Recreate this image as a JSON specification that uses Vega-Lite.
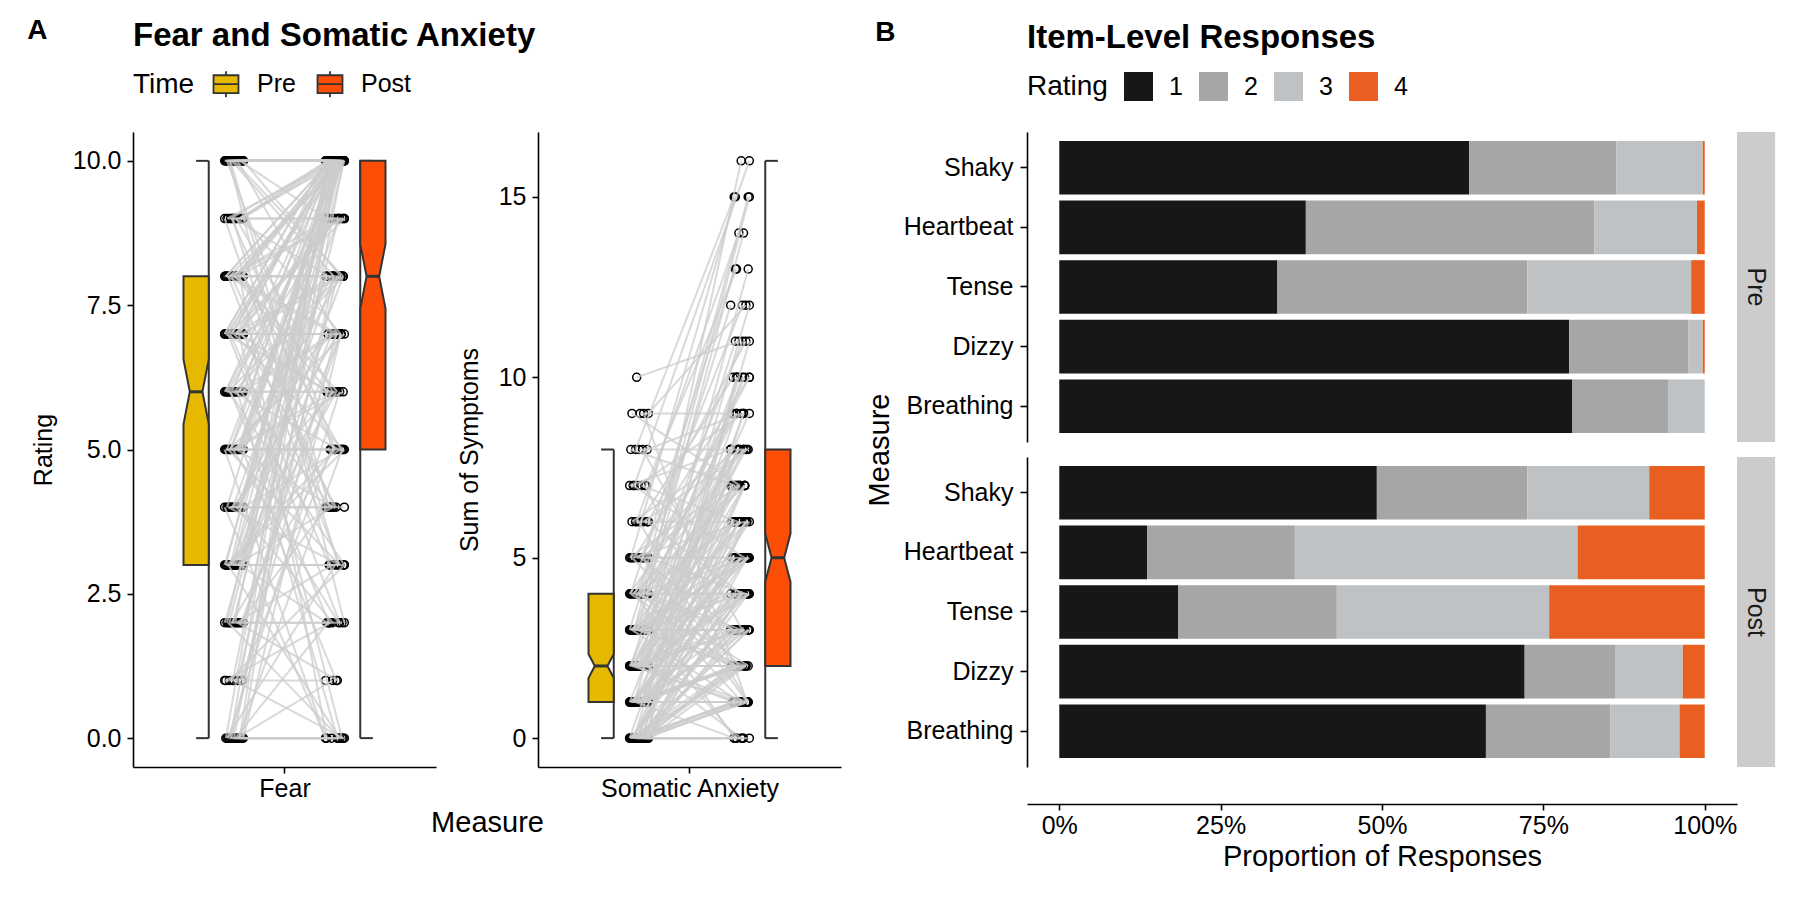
{
"$schema":"https://vega.github.io/schema/vega-lite/v6.json",
"background":"white",
"padding":{"left":27,"top":17,"right":8,"bottom":8},
"config":{
 "font":"Liberation Sans",
 "view":{"stroke":null},
 "axis":{"domainColor":"#000","domainWidth":1.6,"tickColor":"#000","tickWidth":1.6,"tickSize":6,"labelColor":"#000","labelFontSize":25,"labelPadding":6,"titleColor":"#000","titleFontWeight":"normal","titleFontSize":25,"grid":false},
 "legend":{"titleFontSize":28,"titleFontWeight":"normal","titleColor":"#000","labelFontSize":25,"labelColor":"#000","padding":0},
 "title":{"fontSize":33,"fontWeight":"bold","color":"#000","anchor":"start","baseline":"alphabetic"}
},
"datasets":{
"fear":[
{"id":1,"t":"Pre","v":0},{"id":1,"t":"Post","v":0},{"id":2,"t":"Pre","v":0},{"id":2,"t":"Post","v":0},{"id":3,"t":"Pre","v":0},{"id":3,"t":"Post","v":0},{"id":4,"t":"Pre","v":0},{"id":4,"t":"Post","v":0},
{"id":5,"t":"Pre","v":0},{"id":5,"t":"Post","v":10},{"id":6,"t":"Pre","v":0},{"id":6,"t":"Post","v":10},{"id":7,"t":"Pre","v":0},{"id":7,"t":"Post","v":10},{"id":8,"t":"Pre","v":0},{"id":8,"t":"Post","v":10},
{"id":9,"t":"Pre","v":0},{"id":9,"t":"Post","v":5},{"id":10,"t":"Pre","v":0},{"id":10,"t":"Post","v":3},{"id":11,"t":"Pre","v":0},{"id":11,"t":"Post","v":2},{"id":12,"t":"Pre","v":0},{"id":12,"t":"Post","v":7},
{"id":13,"t":"Pre","v":0},{"id":13,"t":"Post","v":8},{"id":14,"t":"Pre","v":0},{"id":14,"t":"Post","v":10},{"id":15,"t":"Pre","v":0},{"id":15,"t":"Post","v":6},{"id":16,"t":"Pre","v":0},{"id":16,"t":"Post","v":1},
{"id":17,"t":"Pre","v":1},{"id":17,"t":"Post","v":1},{"id":18,"t":"Pre","v":1},{"id":18,"t":"Post","v":10},{"id":19,"t":"Pre","v":1},{"id":19,"t":"Post","v":5},{"id":20,"t":"Pre","v":1},{"id":20,"t":"Post","v":3},
{"id":21,"t":"Pre","v":1},{"id":21,"t":"Post","v":8},{"id":22,"t":"Pre","v":1},{"id":22,"t":"Post","v":2},{"id":23,"t":"Pre","v":1},{"id":23,"t":"Post","v":0},{"id":24,"t":"Pre","v":1},{"id":24,"t":"Post","v":7},
{"id":25,"t":"Pre","v":2},{"id":25,"t":"Post","v":2},{"id":26,"t":"Pre","v":2},{"id":26,"t":"Post","v":2},{"id":27,"t":"Pre","v":2},{"id":27,"t":"Post","v":10},{"id":28,"t":"Pre","v":2},{"id":28,"t":"Post","v":10},
{"id":29,"t":"Pre","v":2},{"id":29,"t":"Post","v":7},{"id":30,"t":"Pre","v":2},{"id":30,"t":"Post","v":5},{"id":31,"t":"Pre","v":2},{"id":31,"t":"Post","v":4},{"id":32,"t":"Pre","v":2},{"id":32,"t":"Post","v":0},
{"id":33,"t":"Pre","v":2},{"id":33,"t":"Post","v":3},{"id":34,"t":"Pre","v":2},{"id":34,"t":"Post","v":8},{"id":35,"t":"Pre","v":2},{"id":35,"t":"Post","v":9},{"id":36,"t":"Pre","v":2},{"id":36,"t":"Post","v":6},
{"id":37,"t":"Pre","v":2},{"id":37,"t":"Post","v":10},{"id":38,"t":"Pre","v":2},{"id":38,"t":"Post","v":1},
{"id":39,"t":"Pre","v":3},{"id":39,"t":"Post","v":3},{"id":40,"t":"Pre","v":3},{"id":40,"t":"Post","v":3},{"id":41,"t":"Pre","v":3},{"id":41,"t":"Post","v":10},{"id":42,"t":"Pre","v":3},{"id":42,"t":"Post","v":10},
{"id":43,"t":"Pre","v":3},{"id":43,"t":"Post","v":10},{"id":44,"t":"Pre","v":3},{"id":44,"t":"Post","v":5},{"id":45,"t":"Pre","v":3},{"id":45,"t":"Post","v":6},{"id":46,"t":"Pre","v":3},{"id":46,"t":"Post","v":7},
{"id":47,"t":"Pre","v":3},{"id":47,"t":"Post","v":8},{"id":48,"t":"Pre","v":3},{"id":48,"t":"Post","v":2},{"id":49,"t":"Pre","v":3},{"id":49,"t":"Post","v":0},{"id":50,"t":"Pre","v":3},{"id":50,"t":"Post","v":4},
{"id":51,"t":"Pre","v":3},{"id":51,"t":"Post","v":9},{"id":52,"t":"Pre","v":3},{"id":52,"t":"Post","v":10},{"id":53,"t":"Pre","v":3},{"id":53,"t":"Post","v":7},{"id":54,"t":"Pre","v":3},{"id":54,"t":"Post","v":5},
{"id":55,"t":"Pre","v":3},{"id":55,"t":"Post","v":3},{"id":56,"t":"Pre","v":3},{"id":56,"t":"Post","v":10},{"id":57,"t":"Pre","v":3},{"id":57,"t":"Post","v":8},{"id":58,"t":"Pre","v":3},{"id":58,"t":"Post","v":6},
{"id":59,"t":"Pre","v":4},{"id":59,"t":"Post","v":4},{"id":60,"t":"Pre","v":4},{"id":60,"t":"Post","v":10},{"id":61,"t":"Pre","v":4},{"id":61,"t":"Post","v":10},{"id":62,"t":"Pre","v":4},{"id":62,"t":"Post","v":7},
{"id":63,"t":"Pre","v":4},{"id":63,"t":"Post","v":5},{"id":64,"t":"Pre","v":4},{"id":64,"t":"Post","v":6},{"id":65,"t":"Pre","v":4},{"id":65,"t":"Post","v":8},{"id":66,"t":"Pre","v":4},{"id":66,"t":"Post","v":3},
{"id":67,"t":"Pre","v":4},{"id":67,"t":"Post","v":2},{"id":68,"t":"Pre","v":4},{"id":68,"t":"Post","v":0},{"id":69,"t":"Pre","v":4},{"id":69,"t":"Post","v":9},{"id":70,"t":"Pre","v":4},{"id":70,"t":"Post","v":10},
{"id":71,"t":"Pre","v":4},{"id":71,"t":"Post","v":4},{"id":72,"t":"Pre","v":4},{"id":72,"t":"Post","v":7},
{"id":73,"t":"Pre","v":5},{"id":73,"t":"Post","v":5},{"id":74,"t":"Pre","v":5},{"id":74,"t":"Post","v":5},{"id":75,"t":"Pre","v":5},{"id":75,"t":"Post","v":10},{"id":76,"t":"Pre","v":5},{"id":76,"t":"Post","v":10},
{"id":77,"t":"Pre","v":5},{"id":77,"t":"Post","v":10},{"id":78,"t":"Pre","v":5},{"id":78,"t":"Post","v":10},{"id":79,"t":"Pre","v":5},{"id":79,"t":"Post","v":7},{"id":80,"t":"Pre","v":5},{"id":80,"t":"Post","v":8},
{"id":81,"t":"Pre","v":5},{"id":81,"t":"Post","v":6},{"id":82,"t":"Pre","v":5},{"id":82,"t":"Post","v":9},{"id":83,"t":"Pre","v":5},{"id":83,"t":"Post","v":3},{"id":84,"t":"Pre","v":5},{"id":84,"t":"Post","v":4},
{"id":85,"t":"Pre","v":5},{"id":85,"t":"Post","v":0},{"id":86,"t":"Pre","v":5},{"id":86,"t":"Post","v":2},{"id":87,"t":"Pre","v":5},{"id":87,"t":"Post","v":8},{"id":88,"t":"Pre","v":5},{"id":88,"t":"Post","v":7},
{"id":89,"t":"Pre","v":5},{"id":89,"t":"Post","v":10},{"id":90,"t":"Pre","v":5},{"id":90,"t":"Post","v":5},{"id":91,"t":"Pre","v":5},{"id":91,"t":"Post","v":6},{"id":92,"t":"Pre","v":5},{"id":92,"t":"Post","v":1},
{"id":93,"t":"Pre","v":5},{"id":93,"t":"Post","v":9},{"id":94,"t":"Pre","v":5},{"id":94,"t":"Post","v":10},
{"id":95,"t":"Pre","v":6},{"id":95,"t":"Post","v":6},{"id":96,"t":"Pre","v":6},{"id":96,"t":"Post","v":6},{"id":97,"t":"Pre","v":6},{"id":97,"t":"Post","v":10},{"id":98,"t":"Pre","v":6},{"id":98,"t":"Post","v":10},
{"id":99,"t":"Pre","v":6},{"id":99,"t":"Post","v":10},{"id":100,"t":"Pre","v":6},{"id":100,"t":"Post","v":8},{"id":101,"t":"Pre","v":6},{"id":101,"t":"Post","v":7},{"id":102,"t":"Pre","v":6},{"id":102,"t":"Post","v":9},
{"id":103,"t":"Pre","v":6},{"id":103,"t":"Post","v":5},{"id":104,"t":"Pre","v":6},{"id":104,"t":"Post","v":4},{"id":105,"t":"Pre","v":6},{"id":105,"t":"Post","v":3},{"id":106,"t":"Pre","v":6},{"id":106,"t":"Post","v":0},
{"id":107,"t":"Pre","v":6},{"id":107,"t":"Post","v":10},{"id":108,"t":"Pre","v":6},{"id":108,"t":"Post","v":8},{"id":109,"t":"Pre","v":6},{"id":109,"t":"Post","v":7},{"id":110,"t":"Pre","v":6},{"id":110,"t":"Post","v":2},
{"id":111,"t":"Pre","v":6},{"id":111,"t":"Post","v":10},{"id":112,"t":"Pre","v":6},{"id":112,"t":"Post","v":9},
{"id":113,"t":"Pre","v":7},{"id":113,"t":"Post","v":7},{"id":114,"t":"Pre","v":7},{"id":114,"t":"Post","v":7},{"id":115,"t":"Pre","v":7},{"id":115,"t":"Post","v":10},{"id":116,"t":"Pre","v":7},{"id":116,"t":"Post","v":10},
{"id":117,"t":"Pre","v":7},{"id":117,"t":"Post","v":10},{"id":118,"t":"Pre","v":7},{"id":118,"t":"Post","v":10},{"id":119,"t":"Pre","v":7},{"id":119,"t":"Post","v":10},{"id":120,"t":"Pre","v":7},{"id":120,"t":"Post","v":8},
{"id":121,"t":"Pre","v":7},{"id":121,"t":"Post","v":8},{"id":122,"t":"Pre","v":7},{"id":122,"t":"Post","v":9},{"id":123,"t":"Pre","v":7},{"id":123,"t":"Post","v":9},{"id":124,"t":"Pre","v":7},{"id":124,"t":"Post","v":6},
{"id":125,"t":"Pre","v":7},{"id":125,"t":"Post","v":5},{"id":126,"t":"Pre","v":7},{"id":126,"t":"Post","v":4},{"id":127,"t":"Pre","v":7},{"id":127,"t":"Post","v":3},{"id":128,"t":"Pre","v":7},{"id":128,"t":"Post","v":0},
{"id":129,"t":"Pre","v":7},{"id":129,"t":"Post","v":10},{"id":130,"t":"Pre","v":7},{"id":130,"t":"Post","v":7},{"id":131,"t":"Pre","v":7},{"id":131,"t":"Post","v":8},{"id":132,"t":"Pre","v":7},{"id":132,"t":"Post","v":10},
{"id":133,"t":"Pre","v":7},{"id":133,"t":"Post","v":6},{"id":134,"t":"Pre","v":7},{"id":134,"t":"Post","v":2},{"id":135,"t":"Pre","v":7},{"id":135,"t":"Post","v":9},{"id":136,"t":"Pre","v":7},{"id":136,"t":"Post","v":10},
{"id":137,"t":"Pre","v":8},{"id":137,"t":"Post","v":8},{"id":138,"t":"Pre","v":8},{"id":138,"t":"Post","v":8},{"id":139,"t":"Pre","v":8},{"id":139,"t":"Post","v":10},{"id":140,"t":"Pre","v":8},{"id":140,"t":"Post","v":10},
{"id":141,"t":"Pre","v":8},{"id":141,"t":"Post","v":10},{"id":142,"t":"Pre","v":8},{"id":142,"t":"Post","v":10},{"id":143,"t":"Pre","v":8},{"id":143,"t":"Post","v":10},{"id":144,"t":"Pre","v":8},{"id":144,"t":"Post","v":9},
{"id":145,"t":"Pre","v":8},{"id":145,"t":"Post","v":9},{"id":146,"t":"Pre","v":8},{"id":146,"t":"Post","v":7},{"id":147,"t":"Pre","v":8},{"id":147,"t":"Post","v":6},{"id":148,"t":"Pre","v":8},{"id":148,"t":"Post","v":5},
{"id":149,"t":"Pre","v":8},{"id":149,"t":"Post","v":4},{"id":150,"t":"Pre","v":8},{"id":150,"t":"Post","v":0},{"id":151,"t":"Pre","v":8},{"id":151,"t":"Post","v":3},{"id":152,"t":"Pre","v":8},{"id":152,"t":"Post","v":10},
{"id":153,"t":"Pre","v":8},{"id":153,"t":"Post","v":8},{"id":154,"t":"Pre","v":8},{"id":154,"t":"Post","v":7},{"id":155,"t":"Pre","v":8},{"id":155,"t":"Post","v":10},{"id":156,"t":"Pre","v":8},{"id":156,"t":"Post","v":9},
{"id":157,"t":"Pre","v":8},{"id":157,"t":"Post","v":6},{"id":158,"t":"Pre","v":8},{"id":158,"t":"Post","v":10},
{"id":159,"t":"Pre","v":9},{"id":159,"t":"Post","v":9},{"id":160,"t":"Pre","v":9},{"id":160,"t":"Post","v":10},{"id":161,"t":"Pre","v":9},{"id":161,"t":"Post","v":10},{"id":162,"t":"Pre","v":9},{"id":162,"t":"Post","v":10},
{"id":163,"t":"Pre","v":9},{"id":163,"t":"Post","v":10},{"id":164,"t":"Pre","v":9},{"id":164,"t":"Post","v":8},{"id":165,"t":"Pre","v":9},{"id":165,"t":"Post","v":7},{"id":166,"t":"Pre","v":9},{"id":166,"t":"Post","v":5},
{"id":167,"t":"Pre","v":9},{"id":167,"t":"Post","v":10},{"id":168,"t":"Pre","v":9},{"id":168,"t":"Post","v":9},{"id":169,"t":"Pre","v":9},{"id":169,"t":"Post","v":6},{"id":170,"t":"Pre","v":9},{"id":170,"t":"Post","v":4},
{"id":171,"t":"Pre","v":9},{"id":171,"t":"Post","v":3},{"id":172,"t":"Pre","v":9},{"id":172,"t":"Post","v":10},
{"id":173,"t":"Pre","v":10},{"id":173,"t":"Post","v":10},{"id":174,"t":"Pre","v":10},{"id":174,"t":"Post","v":10},{"id":175,"t":"Pre","v":10},{"id":175,"t":"Post","v":10},{"id":176,"t":"Pre","v":10},{"id":176,"t":"Post","v":10},
{"id":177,"t":"Pre","v":10},{"id":177,"t":"Post","v":10},{"id":178,"t":"Pre","v":10},{"id":178,"t":"Post","v":10},{"id":179,"t":"Pre","v":10},{"id":179,"t":"Post","v":10},{"id":180,"t":"Pre","v":10},{"id":180,"t":"Post","v":10},
{"id":181,"t":"Pre","v":10},{"id":181,"t":"Post","v":10},{"id":182,"t":"Pre","v":10},{"id":182,"t":"Post","v":10},{"id":183,"t":"Pre","v":10},{"id":183,"t":"Post","v":8},{"id":184,"t":"Pre","v":10},{"id":184,"t":"Post","v":9},
{"id":185,"t":"Pre","v":10},{"id":185,"t":"Post","v":10},{"id":186,"t":"Pre","v":10},{"id":186,"t":"Post","v":10},{"id":187,"t":"Pre","v":10},{"id":187,"t":"Post","v":10},{"id":188,"t":"Pre","v":10},{"id":188,"t":"Post","v":10},
{"id":189,"t":"Pre","v":10},{"id":189,"t":"Post","v":10},{"id":190,"t":"Pre","v":10},{"id":190,"t":"Post","v":2},{"id":191,"t":"Pre","v":10},{"id":191,"t":"Post","v":7},{"id":192,"t":"Pre","v":10},{"id":192,"t":"Post","v":10},
{"id":193,"t":"Pre","v":10},{"id":193,"t":"Post","v":8},{"id":194,"t":"Pre","v":10},{"id":194,"t":"Post","v":10},{"id":195,"t":"Pre","v":10},{"id":195,"t":"Post","v":4},{"id":196,"t":"Pre","v":10},{"id":196,"t":"Post","v":10},
{"id":197,"t":"Pre","v":10},{"id":197,"t":"Post","v":5},{"id":198,"t":"Pre","v":10},{"id":198,"t":"Post","v":10},{"id":199,"t":"Pre","v":10},{"id":199,"t":"Post","v":8},{"id":200,"t":"Pre","v":10},{"id":200,"t":"Post","v":10}
],
"soma":[
{"id":1,"t":"Pre","v":0},{"id":1,"t":"Post","v":0},{"id":2,"t":"Pre","v":0},{"id":2,"t":"Post","v":0},{"id":3,"t":"Pre","v":0},{"id":3,"t":"Post","v":0},{"id":4,"t":"Pre","v":0},{"id":4,"t":"Post","v":0},
{"id":5,"t":"Pre","v":0},{"id":5,"t":"Post","v":2},{"id":6,"t":"Pre","v":0},{"id":6,"t":"Post","v":1},{"id":7,"t":"Pre","v":0},{"id":7,"t":"Post","v":1},{"id":8,"t":"Pre","v":0},{"id":8,"t":"Post","v":1},
{"id":9,"t":"Pre","v":0},{"id":9,"t":"Post","v":1},{"id":10,"t":"Pre","v":0},{"id":10,"t":"Post","v":1},{"id":11,"t":"Pre","v":0},{"id":11,"t":"Post","v":1},{"id":12,"t":"Pre","v":0},{"id":12,"t":"Post","v":2},
{"id":13,"t":"Pre","v":0},{"id":13,"t":"Post","v":2},{"id":14,"t":"Pre","v":0},{"id":14,"t":"Post","v":2},{"id":15,"t":"Pre","v":0},{"id":15,"t":"Post","v":2},{"id":16,"t":"Pre","v":0},{"id":16,"t":"Post","v":2},
{"id":17,"t":"Pre","v":0},{"id":17,"t":"Post","v":3},{"id":18,"t":"Pre","v":0},{"id":18,"t":"Post","v":3},{"id":19,"t":"Pre","v":0},{"id":19,"t":"Post","v":3},{"id":20,"t":"Pre","v":0},{"id":20,"t":"Post","v":3},
{"id":21,"t":"Pre","v":0},{"id":21,"t":"Post","v":4},{"id":22,"t":"Pre","v":0},{"id":22,"t":"Post","v":4},{"id":23,"t":"Pre","v":0},{"id":23,"t":"Post","v":4},{"id":24,"t":"Pre","v":0},{"id":24,"t":"Post","v":4},
{"id":25,"t":"Pre","v":0},{"id":25,"t":"Post","v":5},{"id":26,"t":"Pre","v":0},{"id":26,"t":"Post","v":5},{"id":27,"t":"Pre","v":0},{"id":27,"t":"Post","v":5},{"id":28,"t":"Pre","v":0},{"id":28,"t":"Post","v":6},
{"id":29,"t":"Pre","v":0},{"id":29,"t":"Post","v":6},{"id":30,"t":"Pre","v":0},{"id":30,"t":"Post","v":6},{"id":31,"t":"Pre","v":0},{"id":31,"t":"Post","v":7},{"id":32,"t":"Pre","v":0},{"id":32,"t":"Post","v":7},
{"id":33,"t":"Pre","v":0},{"id":33,"t":"Post","v":8},{"id":34,"t":"Pre","v":0},{"id":34,"t":"Post","v":8},{"id":35,"t":"Pre","v":0},{"id":35,"t":"Post","v":9},{"id":36,"t":"Pre","v":0},{"id":36,"t":"Post","v":10},
{"id":37,"t":"Pre","v":0},{"id":37,"t":"Post","v":11},{"id":38,"t":"Pre","v":0},{"id":38,"t":"Post","v":2},{"id":39,"t":"Pre","v":0},{"id":39,"t":"Post","v":1},{"id":40,"t":"Pre","v":0},{"id":40,"t":"Post","v":3},
{"id":41,"t":"Pre","v":0},{"id":41,"t":"Post","v":4},
{"id":42,"t":"Pre","v":1},{"id":42,"t":"Post","v":0},{"id":43,"t":"Pre","v":1},{"id":43,"t":"Post","v":1},{"id":44,"t":"Pre","v":1},{"id":44,"t":"Post","v":1},{"id":45,"t":"Pre","v":1},{"id":45,"t":"Post","v":1},
{"id":46,"t":"Pre","v":1},{"id":46,"t":"Post","v":1},{"id":47,"t":"Pre","v":1},{"id":47,"t":"Post","v":2},{"id":48,"t":"Pre","v":1},{"id":48,"t":"Post","v":2},{"id":49,"t":"Pre","v":1},{"id":49,"t":"Post","v":2},
{"id":50,"t":"Pre","v":1},{"id":50,"t":"Post","v":2},{"id":51,"t":"Pre","v":1},{"id":51,"t":"Post","v":3},{"id":52,"t":"Pre","v":1},{"id":52,"t":"Post","v":3},{"id":53,"t":"Pre","v":1},{"id":53,"t":"Post","v":3},
{"id":54,"t":"Pre","v":1},{"id":54,"t":"Post","v":6},{"id":55,"t":"Pre","v":1},{"id":55,"t":"Post","v":4},{"id":56,"t":"Pre","v":1},{"id":56,"t":"Post","v":4},{"id":57,"t":"Pre","v":1},{"id":57,"t":"Post","v":4},
{"id":58,"t":"Pre","v":1},{"id":58,"t":"Post","v":4},{"id":59,"t":"Pre","v":1},{"id":59,"t":"Post","v":5},{"id":60,"t":"Pre","v":1},{"id":60,"t":"Post","v":5},{"id":61,"t":"Pre","v":1},{"id":61,"t":"Post","v":5},
{"id":62,"t":"Pre","v":1},{"id":62,"t":"Post","v":6},{"id":63,"t":"Pre","v":1},{"id":63,"t":"Post","v":6},{"id":64,"t":"Pre","v":1},{"id":64,"t":"Post","v":6},{"id":65,"t":"Pre","v":1},{"id":65,"t":"Post","v":7},
{"id":66,"t":"Pre","v":1},{"id":66,"t":"Post","v":7},{"id":67,"t":"Pre","v":1},{"id":67,"t":"Post","v":8},{"id":68,"t":"Pre","v":1},{"id":68,"t":"Post","v":8},{"id":69,"t":"Pre","v":1},{"id":69,"t":"Post","v":9},
{"id":70,"t":"Pre","v":1},{"id":70,"t":"Post","v":10},{"id":71,"t":"Pre","v":1},{"id":71,"t":"Post","v":12},{"id":72,"t":"Pre","v":1},{"id":72,"t":"Post","v":1},{"id":73,"t":"Pre","v":1},{"id":73,"t":"Post","v":2},
{"id":74,"t":"Pre","v":1},{"id":74,"t":"Post","v":3},{"id":75,"t":"Pre","v":1},{"id":75,"t":"Post","v":5},
{"id":76,"t":"Pre","v":2},{"id":76,"t":"Post","v":1},{"id":77,"t":"Pre","v":2},{"id":77,"t":"Post","v":1},{"id":78,"t":"Pre","v":2},{"id":78,"t":"Post","v":1},{"id":79,"t":"Pre","v":2},{"id":79,"t":"Post","v":2},
{"id":80,"t":"Pre","v":2},{"id":80,"t":"Post","v":2},{"id":81,"t":"Pre","v":2},{"id":81,"t":"Post","v":2},{"id":82,"t":"Pre","v":2},{"id":82,"t":"Post","v":2},{"id":83,"t":"Pre","v":2},{"id":83,"t":"Post","v":3},
{"id":84,"t":"Pre","v":2},{"id":84,"t":"Post","v":3},{"id":85,"t":"Pre","v":2},{"id":85,"t":"Post","v":3},{"id":86,"t":"Pre","v":2},{"id":86,"t":"Post","v":3},{"id":87,"t":"Pre","v":2},{"id":87,"t":"Post","v":4},
{"id":88,"t":"Pre","v":2},{"id":88,"t":"Post","v":4},{"id":89,"t":"Pre","v":2},{"id":89,"t":"Post","v":4},{"id":90,"t":"Pre","v":2},{"id":90,"t":"Post","v":7},{"id":91,"t":"Pre","v":2},{"id":91,"t":"Post","v":5},
{"id":92,"t":"Pre","v":2},{"id":92,"t":"Post","v":5},{"id":93,"t":"Pre","v":2},{"id":93,"t":"Post","v":5},{"id":94,"t":"Pre","v":2},{"id":94,"t":"Post","v":5},{"id":95,"t":"Pre","v":2},{"id":95,"t":"Post","v":6},
{"id":96,"t":"Pre","v":2},{"id":96,"t":"Post","v":6},{"id":97,"t":"Pre","v":2},{"id":97,"t":"Post","v":6},{"id":98,"t":"Pre","v":2},{"id":98,"t":"Post","v":7},{"id":99,"t":"Pre","v":2},{"id":99,"t":"Post","v":7},
{"id":100,"t":"Pre","v":2},{"id":100,"t":"Post","v":7},{"id":101,"t":"Pre","v":2},{"id":101,"t":"Post","v":8},{"id":102,"t":"Pre","v":2},{"id":102,"t":"Post","v":8},{"id":103,"t":"Pre","v":2},{"id":103,"t":"Post","v":8},
{"id":104,"t":"Pre","v":2},{"id":104,"t":"Post","v":9},{"id":105,"t":"Pre","v":2},{"id":105,"t":"Post","v":9},{"id":106,"t":"Pre","v":2},{"id":106,"t":"Post","v":10},{"id":107,"t":"Pre","v":2},{"id":107,"t":"Post","v":11},
{"id":108,"t":"Pre","v":2},{"id":108,"t":"Post","v":13},{"id":109,"t":"Pre","v":2},{"id":109,"t":"Post","v":0},{"id":110,"t":"Pre","v":2},{"id":110,"t":"Post","v":2},{"id":111,"t":"Pre","v":2},{"id":111,"t":"Post","v":4},
{"id":112,"t":"Pre","v":3},{"id":112,"t":"Post","v":1},{"id":113,"t":"Pre","v":3},{"id":113,"t":"Post","v":2},{"id":114,"t":"Pre","v":3},{"id":114,"t":"Post","v":2},{"id":115,"t":"Pre","v":3},{"id":115,"t":"Post","v":2},
{"id":116,"t":"Pre","v":3},{"id":116,"t":"Post","v":3},{"id":117,"t":"Pre","v":3},{"id":117,"t":"Post","v":3},{"id":118,"t":"Pre","v":3},{"id":118,"t":"Post","v":3},{"id":119,"t":"Pre","v":3},{"id":119,"t":"Post","v":4},
{"id":120,"t":"Pre","v":3},{"id":120,"t":"Post","v":4},{"id":121,"t":"Pre","v":3},{"id":121,"t":"Post","v":4},{"id":122,"t":"Pre","v":3},{"id":122,"t":"Post","v":5},{"id":123,"t":"Pre","v":3},{"id":123,"t":"Post","v":5},
{"id":124,"t":"Pre","v":3},{"id":124,"t":"Post","v":5},{"id":125,"t":"Pre","v":3},{"id":125,"t":"Post","v":5},{"id":126,"t":"Pre","v":3},{"id":126,"t":"Post","v":6},{"id":127,"t":"Pre","v":3},{"id":127,"t":"Post","v":6},
{"id":128,"t":"Pre","v":3},{"id":128,"t":"Post","v":6},{"id":129,"t":"Pre","v":3},{"id":129,"t":"Post","v":7},{"id":130,"t":"Pre","v":3},{"id":130,"t":"Post","v":7},{"id":131,"t":"Pre","v":3},{"id":131,"t":"Post","v":8},
{"id":132,"t":"Pre","v":3},{"id":132,"t":"Post","v":8},{"id":133,"t":"Pre","v":3},{"id":133,"t":"Post","v":9},{"id":134,"t":"Pre","v":3},{"id":134,"t":"Post","v":10},{"id":135,"t":"Pre","v":3},{"id":135,"t":"Post","v":10},
{"id":136,"t":"Pre","v":3},{"id":136,"t":"Post","v":12},{"id":137,"t":"Pre","v":3},{"id":137,"t":"Post","v":14},{"id":138,"t":"Pre","v":3},{"id":138,"t":"Post","v":0},{"id":139,"t":"Pre","v":3},{"id":139,"t":"Post","v":15},
{"id":140,"t":"Pre","v":4},{"id":140,"t":"Post","v":1},{"id":141,"t":"Pre","v":4},{"id":141,"t":"Post","v":2},{"id":142,"t":"Pre","v":4},{"id":142,"t":"Post","v":2},{"id":143,"t":"Pre","v":4},{"id":143,"t":"Post","v":3},
{"id":144,"t":"Pre","v":4},{"id":144,"t":"Post","v":3},{"id":145,"t":"Pre","v":4},{"id":145,"t":"Post","v":4},{"id":146,"t":"Pre","v":4},{"id":146,"t":"Post","v":4},{"id":147,"t":"Pre","v":4},{"id":147,"t":"Post","v":5},
{"id":148,"t":"Pre","v":4},{"id":148,"t":"Post","v":5},{"id":149,"t":"Pre","v":4},{"id":149,"t":"Post","v":6},{"id":150,"t":"Pre","v":4},{"id":150,"t":"Post","v":6},{"id":151,"t":"Pre","v":4},{"id":151,"t":"Post","v":7},
{"id":152,"t":"Pre","v":4},{"id":152,"t":"Post","v":7},{"id":153,"t":"Pre","v":4},{"id":153,"t":"Post","v":8},{"id":154,"t":"Pre","v":4},{"id":154,"t":"Post","v":8},{"id":155,"t":"Pre","v":4},{"id":155,"t":"Post","v":9},
{"id":156,"t":"Pre","v":4},{"id":156,"t":"Post","v":10},{"id":157,"t":"Pre","v":4},{"id":157,"t":"Post","v":11},{"id":158,"t":"Pre","v":4},{"id":158,"t":"Post","v":13},{"id":159,"t":"Pre","v":4},{"id":159,"t":"Post","v":15},
{"id":160,"t":"Pre","v":4},{"id":160,"t":"Post","v":16},{"id":161,"t":"Pre","v":4},{"id":161,"t":"Post","v":0},
{"id":162,"t":"Pre","v":5},{"id":162,"t":"Post","v":1},{"id":163,"t":"Pre","v":5},{"id":163,"t":"Post","v":2},{"id":164,"t":"Pre","v":5},{"id":164,"t":"Post","v":3},{"id":165,"t":"Pre","v":5},{"id":165,"t":"Post","v":4},
{"id":166,"t":"Pre","v":5},{"id":166,"t":"Post","v":5},{"id":167,"t":"Pre","v":5},{"id":167,"t":"Post","v":5},{"id":168,"t":"Pre","v":5},{"id":168,"t":"Post","v":6},{"id":169,"t":"Pre","v":5},{"id":169,"t":"Post","v":7},
{"id":170,"t":"Pre","v":5},{"id":170,"t":"Post","v":7},{"id":171,"t":"Pre","v":5},{"id":171,"t":"Post","v":8},{"id":172,"t":"Pre","v":5},{"id":172,"t":"Post","v":9},{"id":173,"t":"Pre","v":5},{"id":173,"t":"Post","v":10},
{"id":174,"t":"Pre","v":5},{"id":174,"t":"Post","v":12},{"id":175,"t":"Pre","v":5},{"id":175,"t":"Post","v":15},
{"id":176,"t":"Pre","v":6},{"id":176,"t":"Post","v":1},{"id":177,"t":"Pre","v":6},{"id":177,"t":"Post","v":4},{"id":178,"t":"Pre","v":6},{"id":178,"t":"Post","v":6},{"id":179,"t":"Pre","v":6},{"id":179,"t":"Post","v":8},
{"id":180,"t":"Pre","v":6},{"id":180,"t":"Post","v":8},{"id":181,"t":"Pre","v":6},{"id":181,"t":"Post","v":10},{"id":182,"t":"Pre","v":6},{"id":182,"t":"Post","v":11},{"id":183,"t":"Pre","v":6},{"id":183,"t":"Post","v":14},
{"id":184,"t":"Pre","v":7},{"id":184,"t":"Post","v":2},{"id":185,"t":"Pre","v":7},{"id":185,"t":"Post","v":5},{"id":186,"t":"Pre","v":7},{"id":186,"t":"Post","v":6},{"id":187,"t":"Pre","v":7},{"id":187,"t":"Post","v":8},
{"id":188,"t":"Pre","v":7},{"id":188,"t":"Post","v":9},{"id":189,"t":"Pre","v":7},{"id":189,"t":"Post","v":13},{"id":190,"t":"Pre","v":7},{"id":190,"t":"Post","v":16},
{"id":191,"t":"Pre","v":8},{"id":191,"t":"Post","v":3},{"id":192,"t":"Pre","v":8},{"id":192,"t":"Post","v":7},{"id":193,"t":"Pre","v":8},{"id":193,"t":"Post","v":8},{"id":194,"t":"Pre","v":8},{"id":194,"t":"Post","v":9},
{"id":195,"t":"Pre","v":8},{"id":195,"t":"Post","v":15},
{"id":196,"t":"Pre","v":9},{"id":196,"t":"Post","v":1},{"id":197,"t":"Pre","v":9},{"id":197,"t":"Post","v":7},{"id":198,"t":"Pre","v":9},{"id":198,"t":"Post","v":9},{"id":199,"t":"Pre","v":9},{"id":199,"t":"Post","v":12},
{"id":200,"t":"Pre","v":10},{"id":200,"t":"Post","v":11}
],
"items":[
{"time":"Pre","item":"Shaky","r":"1","p":0.635},{"time":"Pre","item":"Shaky","r":"2","p":0.228},{"time":"Pre","item":"Shaky","r":"3","p":0.134},{"time":"Pre","item":"Shaky","r":"4","p":0.003},
{"time":"Pre","item":"Heartbeat","r":"1","p":0.382},{"time":"Pre","item":"Heartbeat","r":"2","p":0.447},{"time":"Pre","item":"Heartbeat","r":"3","p":0.159},{"time":"Pre","item":"Heartbeat","r":"4","p":0.012},
{"time":"Pre","item":"Tense","r":"1","p":0.338},{"time":"Pre","item":"Tense","r":"2","p":0.387},{"time":"Pre","item":"Tense","r":"3","p":0.254},{"time":"Pre","item":"Tense","r":"4","p":0.021},
{"time":"Pre","item":"Dizzy","r":"1","p":0.790},{"time":"Pre","item":"Dizzy","r":"2","p":0.185},{"time":"Pre","item":"Dizzy","r":"3","p":0.022},{"time":"Pre","item":"Dizzy","r":"4","p":0.003},
{"time":"Pre","item":"Breathing","r":"1","p":0.795},{"time":"Pre","item":"Breathing","r":"2","p":0.149},{"time":"Pre","item":"Breathing","r":"3","p":0.056},{"time":"Pre","item":"Breathing","r":"4","p":0.0},
{"time":"Post","item":"Shaky","r":"1","p":0.492},{"time":"Post","item":"Shaky","r":"2","p":0.233},{"time":"Post","item":"Shaky","r":"3","p":0.189},{"time":"Post","item":"Shaky","r":"4","p":0.086},
{"time":"Post","item":"Heartbeat","r":"1","p":0.136},{"time":"Post","item":"Heartbeat","r":"2","p":0.229},{"time":"Post","item":"Heartbeat","r":"3","p":0.438},{"time":"Post","item":"Heartbeat","r":"4","p":0.197},
{"time":"Post","item":"Tense","r":"1","p":0.184},{"time":"Post","item":"Tense","r":"2","p":0.246},{"time":"Post","item":"Tense","r":"3","p":0.329},{"time":"Post","item":"Tense","r":"4","p":0.241},
{"time":"Post","item":"Dizzy","r":"1","p":0.721},{"time":"Post","item":"Dizzy","r":"2","p":0.140},{"time":"Post","item":"Dizzy","r":"3","p":0.105},{"time":"Post","item":"Dizzy","r":"4","p":0.034},
{"time":"Post","item":"Breathing","r":"1","p":0.661},{"time":"Post","item":"Breathing","r":"2","p":0.193},{"time":"Post","item":"Breathing","r":"3","p":0.107},{"time":"Post","item":"Breathing","r":"4","p":0.039}
]
},
"resolve":{"scale":{"x":"independent","y":"independent","fill":"independent"}},
"spacing":24,
"hconcat":[
{
 "title":{"text":"A","fontSize":28,"offset":-25,"dx":-4},
 "bounds":"flush","spacing":102,
 "resolve":{"scale":{"x":"independent","y":"independent","fill":"independent"},"legend":{"fill":"independent"}},
 "hconcat":[
 {
  "width":303,"height":635,
  "title":{"text":"Fear and Somatic Anxiety","frame":"group","offset":17},
  "data":{"name":"fear"},
  "layer":[
   {"transform":[{"calculate":"(datum.t=='Pre' ? 0.8 : 1.2) + 0.074*((datum.t=='Pre' ? (datum.id*7)%17 : (datum.id*11)%17)/16 - 0.5)","as":"xp"}],
    "mark":{"type":"point","shape":"circle","filled":false,"stroke":"#000","strokeWidth":1.5,"size":64,"opacity":1},
    "encoding":{
     "x":{"field":"xp","type":"quantitative","scale":{"domain":[0.4,1.6],"nice":false,"zero":false},"axis":{"values":[1],"labelExpr":"'Fear'","labelPadding":3,"title":"Measure","titleFontSize":29,"titleX":354,"titlePadding":7}},
     "y":{"field":"v","type":"quantitative","scale":{"domain":[-0.5,10.5],"nice":false,"zero":false},"axis":{"values":[0,2.5,5,7.5,10],"format":".1f","title":"Rating","titlePadding":16}}}},
   {"transform":[{"calculate":"(datum.t=='Pre' ? 0.8 : 1.2) + 0.074*((datum.t=='Pre' ? (datum.id*7)%17 : (datum.id*11)%17)/16 - 0.5)","as":"xp"}],
    "mark":{"type":"line","stroke":"#cccccc","strokeWidth":2,"opacity":0.75},
    "encoding":{"x":{"field":"xp","type":"quantitative"},"y":{"field":"v","type":"quantitative"},"detail":{"field":"id"}}},
   {"transform":[
     {"joinaggregate":[{"op":"q1","field":"v","as":"q1"},{"op":"q3","field":"v","as":"q3"}],"groupby":["t"]},
     {"filter":"datum.v >= datum.q1 - 1.5*(datum.q3-datum.q1) && datum.v <= datum.q3 + 1.5*(datum.q3-datum.q1)"},
     {"aggregate":[{"op":"min","field":"v","as":"lo"},{"op":"max","field":"v","as":"hi"}],"groupby":["t"]},
     {"calculate":"datum.t=='Pre' ? 0.65 : 1.35","as":"cx"},
     {"calculate":"datum.t=='Pre' ? 0.7 : 1.3","as":"wx"}],
    "mark":{"type":"rule","stroke":"#333333","strokeWidth":2},
    "encoding":{"x":{"field":"wx","type":"quantitative"},"y":{"field":"lo","type":"quantitative"},"y2":{"field":"hi"}}},
   {"transform":[
     {"joinaggregate":[{"op":"q1","field":"v","as":"q1"},{"op":"q3","field":"v","as":"q3"}],"groupby":["t"]},
     {"filter":"datum.v >= datum.q1 - 1.5*(datum.q3-datum.q1) && datum.v <= datum.q3 + 1.5*(datum.q3-datum.q1)"},
     {"aggregate":[{"op":"min","field":"v","as":"lo"},{"op":"max","field":"v","as":"hi"}],"groupby":["t"]},
     {"calculate":"datum.t=='Pre' ? 0.65 : 1.35","as":"cx"},
     {"calculate":"datum.t=='Pre' ? 0.7 : 1.3","as":"wx"},
     {"fold":["lo","hi"],"as":["k","wy"]}],
    "mark":{"type":"rule","stroke":"#333333","strokeWidth":2},
    "encoding":{"x":{"field":"cx","type":"quantitative"},"x2":{"field":"wx"},"y":{"field":"wy","type":"quantitative"}}},
   {"transform":[
     {"aggregate":[{"op":"q1","field":"v","as":"q1"},{"op":"q3","field":"v","as":"q3"},{"op":"median","field":"v","as":"med"},{"op":"count","as":"n"}],"groupby":["t"]},
     {"calculate":"1.58*(datum.q3-datum.q1)/sqrt(datum.n)","as":"nh"},
     {"calculate":"datum.med - datum.nh","as":"nlo"},
     {"calculate":"datum.med + datum.nh","as":"nhi"},
     {"calculate":"datum.t=='Pre' ? 0.65 : 1.35","as":"cx"},
     {"fold":["q1","nlo","med","nhi","q3"],"as":["k","yy"]},
     {"calculate":"datum.k=='med' ? 0.025 : 0.05","as":"hw"},
     {"calculate":"datum.cx - datum.hw","as":"xl"},
     {"calculate":"datum.cx + datum.hw","as":"xr"}],
    "mark":{"type":"area","orient":"horizontal","stroke":"#333333","strokeWidth":2,"opacity":1},
    "encoding":{
     "y":{"field":"yy","type":"quantitative"},
     "x":{"field":"xl","type":"quantitative"},"x2":{"field":"xr"},
     "fill":{"field":"t","type":"nominal","scale":{"domain":["Pre","Post"],"range":["#E7B800","#FC4E07"]},
      "legend":{"orient":"top","direction":"horizontal","title":"Time","titleOrient":"left","titleBaseline":"middle","symbolType":"M-0.96,-0.69H0.96V0.69H-0.96ZM-0.96,0H0.96M0,-0.69V-1M0,0.69V1","symbolSize":676,"symbolStrokeColor":"#333333","symbolStrokeWidth":1.8,"symbolOpacity":1,"labelOffset":17,"columnPadding":17,"titlePadding":17,"offset":31}}}},
   {"transform":[
     {"aggregate":[{"op":"median","field":"v","as":"med"}],"groupby":["t"]},
     {"calculate":"(datum.t=='Pre' ? 0.65 : 1.35) - 0.025","as":"ml"},
     {"calculate":"(datum.t=='Pre' ? 0.65 : 1.35) + 0.025","as":"mr"}],
    "mark":{"type":"rule","stroke":"#333333","strokeWidth":3},
    "encoding":{"x":{"field":"ml","type":"quantitative"},"x2":{"field":"mr"},"y":{"field":"med","type":"quantitative"}}}
  ]
 },
 {
  "width":303,"height":635,
  "data":{"name":"soma"},
  "layer":[
   {"transform":[{"calculate":"(datum.t=='Pre' ? 0.8 : 1.2) + 0.074*((datum.t=='Pre' ? (datum.id*7)%17 : (datum.id*11)%17)/16 - 0.5)","as":"xp"}],
    "mark":{"type":"point","shape":"circle","filled":false,"stroke":"#000","strokeWidth":1.5,"size":64,"opacity":1},
    "encoding":{
     "x":{"field":"xp","type":"quantitative","scale":{"domain":[0.4,1.6],"nice":false,"zero":false},"axis":{"values":[1],"labelExpr":"'Somatic Anxiety'","labelPadding":3,"title":""}},
     "y":{"field":"v","type":"quantitative","scale":{"domain":[-0.8,16.8],"nice":false,"zero":false},"axis":{"values":[0,5,10,15],"format":"d","title":"Sum of Symptoms","titlePadding":16}}}},
   {"transform":[{"calculate":"(datum.t=='Pre' ? 0.8 : 1.2) + 0.074*((datum.t=='Pre' ? (datum.id*7)%17 : (datum.id*11)%17)/16 - 0.5)","as":"xp"}],
    "mark":{"type":"line","stroke":"#cccccc","strokeWidth":2,"opacity":0.75},
    "encoding":{"x":{"field":"xp","type":"quantitative"},"y":{"field":"v","type":"quantitative"},"detail":{"field":"id"}}},
   {"transform":[
     {"joinaggregate":[{"op":"q1","field":"v","as":"q1"},{"op":"q3","field":"v","as":"q3"}],"groupby":["t"]},
     {"filter":"datum.v >= datum.q1 - 1.5*(datum.q3-datum.q1) && datum.v <= datum.q3 + 1.5*(datum.q3-datum.q1)"},
     {"aggregate":[{"op":"min","field":"v","as":"lo"},{"op":"max","field":"v","as":"hi"}],"groupby":["t"]},
     {"calculate":"datum.t=='Pre' ? 0.65 : 1.35","as":"cx"},
     {"calculate":"datum.t=='Pre' ? 0.7 : 1.3","as":"wx"}],
    "mark":{"type":"rule","stroke":"#333333","strokeWidth":2},
    "encoding":{"x":{"field":"wx","type":"quantitative"},"y":{"field":"lo","type":"quantitative"},"y2":{"field":"hi"}}},
   {"transform":[
     {"joinaggregate":[{"op":"q1","field":"v","as":"q1"},{"op":"q3","field":"v","as":"q3"}],"groupby":["t"]},
     {"filter":"datum.v >= datum.q1 - 1.5*(datum.q3-datum.q1) && datum.v <= datum.q3 + 1.5*(datum.q3-datum.q1)"},
     {"aggregate":[{"op":"min","field":"v","as":"lo"},{"op":"max","field":"v","as":"hi"}],"groupby":["t"]},
     {"calculate":"datum.t=='Pre' ? 0.65 : 1.35","as":"cx"},
     {"calculate":"datum.t=='Pre' ? 0.7 : 1.3","as":"wx"},
     {"fold":["lo","hi"],"as":["k","wy"]}],
    "mark":{"type":"rule","stroke":"#333333","strokeWidth":2},
    "encoding":{"x":{"field":"cx","type":"quantitative"},"x2":{"field":"wx"},"y":{"field":"wy","type":"quantitative"}}},
   {"transform":[
     {"aggregate":[{"op":"q1","field":"v","as":"q1"},{"op":"q3","field":"v","as":"q3"},{"op":"median","field":"v","as":"med"},{"op":"count","as":"n"}],"groupby":["t"]},
     {"calculate":"1.58*(datum.q3-datum.q1)/sqrt(datum.n)","as":"nh"},
     {"calculate":"datum.med - datum.nh","as":"nlo"},
     {"calculate":"datum.med + datum.nh","as":"nhi"},
     {"calculate":"datum.t=='Pre' ? 0.65 : 1.35","as":"cx"},
     {"fold":["q1","nlo","med","nhi","q3"],"as":["k","yy"]},
     {"calculate":"datum.k=='med' ? 0.025 : 0.05","as":"hw"},
     {"calculate":"datum.cx - datum.hw","as":"xl"},
     {"calculate":"datum.cx + datum.hw","as":"xr"}],
    "mark":{"type":"area","orient":"horizontal","stroke":"#333333","strokeWidth":2,"opacity":1},
    "encoding":{
     "y":{"field":"yy","type":"quantitative"},
     "x":{"field":"xl","type":"quantitative"},"x2":{"field":"xr"},
     "fill":{"field":"t","type":"nominal","scale":{"domain":["Pre","Post"],"range":["#E7B800","#FC4E07"]},"legend":null}}},
   {"transform":[
     {"aggregate":[{"op":"median","field":"v","as":"med"}],"groupby":["t"]},
     {"calculate":"(datum.t=='Pre' ? 0.65 : 1.35) - 0.025","as":"ml"},
     {"calculate":"(datum.t=='Pre' ? 0.65 : 1.35) + 0.025","as":"mr"}],
    "mark":{"type":"rule","stroke":"#333333","strokeWidth":3},
    "encoding":{"x":{"field":"ml","type":"quantitative"},"x2":{"field":"mr"},"y":{"field":"med","type":"quantitative"}}}
  ]
 }
 ]
},
{
 "title":{"text":"B","fontSize":28,"offset":-25,"dx":10},
 "bounds":"flush","spacing":15,
 "resolve":{"scale":{"fill":"independent"},"legend":{"fill":"independent"}},
 "vconcat":[
 {
  "width":710,"height":310,
  "title":{"text":"Item-Level Responses","frame":"group","offset":17},
  "layer":[
   {"data":{"name":"items"},"transform":[{"filter":"datum.time=='Pre'"}],
    "mark":{"type":"bar"},
    "encoding":{
     "y":{"field":"item","type":"nominal","sort":["Shaky","Heartbeat","Tense","Dizzy","Breathing"],"scale":{"paddingInner":0.1,"paddingOuter":0.15},"axis":{"title":"Measure","titleFontSize":29,"titleY":317.5,"titlePadding":9,"tickSize":7,"labelPadding":7}},
     "x":{"field":"p","type":"quantitative","stack":"zero","scale":{"domain":[-0.05,1.05],"nice":false,"zero":false},"axis":null},
     "fill":{"field":"r","type":"nominal","scale":{"domain":["1","2","3","4"],"range":["#171717","#a6a6a6","#bfc2c4","#e95f22"]},
      "legend":{"orient":"top","direction":"horizontal","title":"Rating","titleOrient":"left","titleBaseline":"middle","symbolType":"square","symbolSize":841,"symbolStrokeWidth":0,"symbolOpacity":1,"labelOffset":16,"columnPadding":16,"titlePadding":16,"offset":31}},
     "order":{"field":"r"}}},
   {"data":{"values":[{"s":"Pre"}]},"mark":{"type":"rect","fill":"#cccccc"},
    "encoding":{"x":{"datum":1.05,"type":"quantitative","axis":null},"x2":{"datum":1.109}}},
   {"data":{"values":[{"s":"Pre"}]},"mark":{"type":"text","angle":90,"fontSize":25,"color":"#1a1a1a","align":"center","baseline":"middle"},
    "encoding":{"x":{"datum":1.0795,"type":"quantitative","axis":null},"text":{"field":"s"}}}
  ]
 },
 {
  "width":710,"height":310,
  "layer":[
   {"data":{"name":"items"},"transform":[{"filter":"datum.time=='Post'"}],
    "mark":{"type":"bar"},
    "encoding":{
     "y":{"field":"item","type":"nominal","sort":["Shaky","Heartbeat","Tense","Dizzy","Breathing"],"scale":{"paddingInner":0.1,"paddingOuter":0.15},"axis":{"title":null,"tickSize":7,"labelPadding":7}},
     "x":{"field":"p","type":"quantitative","stack":"zero","scale":{"domain":[-0.05,1.05],"nice":false,"zero":false},"axis":{"offset":37,"values":[0,0.25,0.5,0.75,1],"format":".0%","labelPadding":3,"title":"Proportion of Responses","titleFontSize":29,"titlePadding":4}},
     "fill":{"field":"r","type":"nominal","scale":{"domain":["1","2","3","4"],"range":["#171717","#a6a6a6","#bfc2c4","#e95f22"]},"legend":null},
     "order":{"field":"r"}}},
   {"data":{"values":[{"s":"Post"}]},"mark":{"type":"rect","fill":"#cccccc"},
    "encoding":{"x":{"datum":1.05,"type":"quantitative"},"x2":{"datum":1.109}}},
   {"data":{"values":[{"s":"Post"}]},"mark":{"type":"text","angle":90,"fontSize":25,"color":"#1a1a1a","align":"center","baseline":"middle"},
    "encoding":{"x":{"datum":1.0795,"type":"quantitative"},"text":{"field":"s"}}}
  ]
 }
 ]
}
]
}
